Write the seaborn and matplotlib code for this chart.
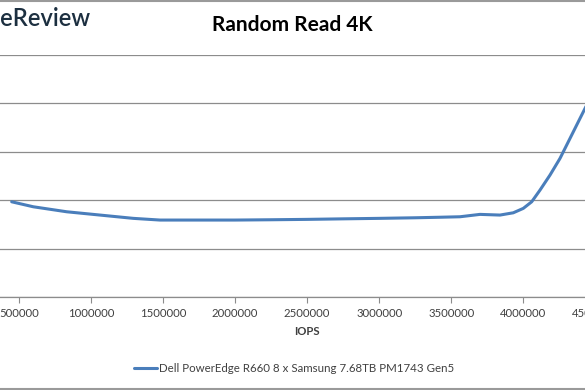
import matplotlib
matplotlib.use("Agg")
import matplotlib.pyplot as plt
from matplotlib.lines import Line2D
import seaborn as sns

# values (latency axis is cropped, assumed ms)
iops = [451400, 601200, 832800, 1063800, 1294700, 1479900, 1757300, 2000000,
        2243000, 2499000, 2749000, 2999000, 3248000, 3421000, 3560300, 3699000,
        3837700, 3929900, 3999300, 4057500, 4115100, 4184400, 4253800, 4323100,
        4380700, 4427200, 4531000]
latency = [0.1971, 0.1868, 0.1765, 0.1697, 0.1629, 0.1594, 0.1594, 0.1594,
           0.1600, 0.1608, 0.1619, 0.1629, 0.1641, 0.1652, 0.1662, 0.1711,
           0.1697, 0.1744, 0.1835, 0.1971, 0.2212, 0.2522, 0.2866, 0.3278,
           0.3621, 0.3897, 0.4520]
x_ticks = [0, 500000, 1000000, 1500000, 2000000, 2500000, 3000000, 3500000,
           4000000, 4500000, 5000000]
y_ticks = [0.0, 0.1, 0.2, 0.3, 0.4, 0.5]
series_name = "Dell PowerEdge R660 8 x Samsung 7.68TB PM1743 Gen5"

sns.set_style("white")
plt.rcParams['font.family'] = ['Lato', 'DejaVu Sans']

fig = plt.figure(figsize=(5.85, 3.9), dpi=100)
# plot area runs past the left and right edges, like the cropped screenshot
ax = fig.add_axes([-53.4 / 585, 92.7 / 390, 721 / 585, 242.3 / 390])

sns.lineplot(x=iops, y=latency, ax=ax, color="#4a7ebb", linewidth=2.2,
             label=series_name, legend=False)
ax.lines[0].set_solid_joinstyle("round")

ax.set_xlim(0, 5000000)
ax.set_ylim(0, 0.5)
ax.set_xticks(x_ticks)
ax.set_xticklabels([str(t) for t in x_ticks], fontsize=8.2, color="#404040")
ax.set_yticks(y_ticks)
ax.set_yticklabels([])
ax.grid(axis="y", color="#8c8c8c", linewidth=0.9)
ax.grid(axis="x", visible=False)
for side in ["top", "right", "left"]:
    ax.spines[side].set_visible(False)
ax.spines["bottom"].set_color("#8c8c8c")
ax.spines["bottom"].set_linewidth(0.9)
ax.tick_params(axis="x", direction="out", length=4, color="#8c8c8c",
               bottom=True, pad=4)
ax.tick_params(axis="y", length=0)
ax.set_xlabel("IOPS", fontsize=8.2, fontweight="bold", color="#404040", labelpad=5)
ax.set_ylabel("")

fig.text(292 / 585, 1 - 25 / 390, "Random Read 4K", ha="center", va="center",
         fontsize=15, fontweight="bold", color="#000000")
fig.text(90 / 585, 1 - 18 / 390, "StorageReview", ha="right", va="center",
         fontsize=17, fontweight="semibold", color="#1c2f40")

handles, labels = ax.get_legend_handles_labels()
fig.legend(handles, labels, loc="center", bbox_to_anchor=(0.503, 1 - 369 / 390),
           frameon=False, fontsize=8.3, handlelength=2.0, handletextpad=0.2,
           labelcolor="#404040")

fig.add_artist(Line2D([0, 1], [0.997, 0.997], color="#9a9a9a", linewidth=1.5))
fig.add_artist(Line2D([0, 1], [0.003, 0.003], color="#9a9a9a", linewidth=1.5))

fig.savefig("out.png", dpi=100)
